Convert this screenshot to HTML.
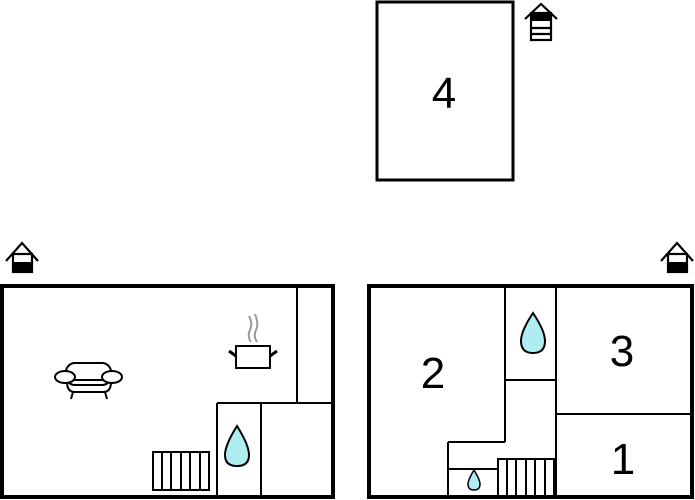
<!DOCTYPE html>
<html><head><style>body{margin:0;background:#fff}svg{display:block}</style></head><body>
<svg width="695" height="500" viewBox="0 0 695 500" xmlns="http://www.w3.org/2000/svg" font-family="Liberation Sans, sans-serif">
<g fill="none" stroke="#000">
<rect x="377" y="2" width="136" height="178" stroke-width="3"/>
<rect x="2" y="286" width="331" height="211" stroke-width="4"/>
<rect x="369" y="286" width="323" height="211" stroke-width="4"/>
<g stroke-width="2">
<path d="M297 286V403M217 403H333M217 403V497M261 403V497"/>
<path d="M505 286V442M556 286V497M505 380H556M556 414H692M448 442H505M448 442V497M448 469H498"/>
<rect x="153" y="452" width="56" height="38"/>
<path d="M162 452V490M171 452V490M181 452V490M190 452V490M200 452V490"/>
<rect x="498" y="459" width="56" height="38"/>
<path d="M507 459V497M516 459V497M526 459V497M535 459V497M545 459V497"/>
<rect x="66" y="363" width="45" height="22" rx="9"/>
<path d="M66 380H111M67 382Q67 392 75 392H103Q111 392 111 382M73 392L71 399M105 392L107 399"/>
<ellipse cx="65" cy="377" rx="10" ry="6" fill="#fff"/>
<ellipse cx="112" cy="377" rx="10" ry="6" fill="#fff"/>
<path d="M236 346V368H270V346Z"/>
<path d="M229 351L236 356M277 351L270 356" stroke-width="3"/>
<path d="M251 342Q247 336 250 330Q253 324 249 316M257 342Q253 336 256 330Q259 324 255 314" stroke="#999"/>
</g>
<g stroke-width="2" fill="#aeeef2">
<path d="M237 426Q225 445 225 455Q225 466 237 466Q249 466 249 455Q249 445 237 426Z"/>
<path d="M533 313Q521 331 521 341Q521 353 533 353Q545 353 545 341Q545 331 533 313Z"/>
<path d="M474 470Q468 480 468 484Q468 490 474 490Q480 490 480 484Q480 480 474 470Z" stroke-width="1.5"/>
</g>
<g stroke-width="2.2">
<path d="M525 19L541 4L557 19"/><rect x="531" y="13" width="20" height="27"/>
<path d="M531 28H551M531 34H551"/>
<path d="M6 261L22 243L38 261"/><rect x="13" y="254" width="19" height="18"/>
<path d="M661 261L677 243L693 261"/><rect x="668" y="254" width="19" height="18"/>
</g>
</g>
<rect x="531" y="13" width="20" height="8"/>
<rect x="13" y="262" width="19" height="10"/>
<rect x="668" y="262" width="19" height="10"/>
<g font-size="44" text-anchor="middle">
<text x="444" y="108">4</text>
<text x="433" y="388">2</text>
<text x="622" y="366">3</text>
<text x="623" y="474">1</text>
</g>
</svg>
</body></html>
